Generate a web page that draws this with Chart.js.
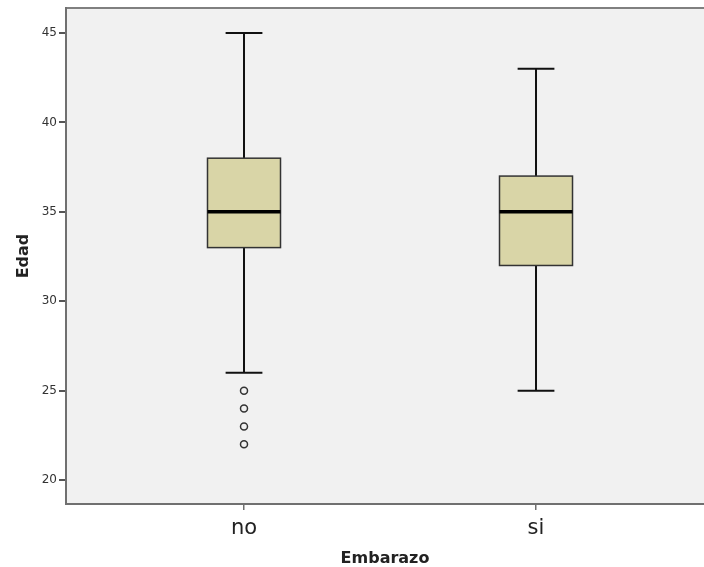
<!DOCTYPE html>
<html>
<head>
<meta charset="utf-8">
<script src="https://cdn.jsdelivr.net/npm/chart.js@4"></script>
<style>
html,body{margin:0;padding:0;background:#fff;overflow:hidden;}
canvas{display:block;}
</style>
</head>
<body>
<canvas id="c" width="704" height="567"></canvas>
<script>
const categories = ['no', 'si'];
const whiskerLow = [26, 25];
const q1 = [33, 32];
const medians = [35, 35];
const q3 = [38, 37];
const whiskerHigh = [45, 43];
const outliersNo = [25, 24, 23, 22];
const outliersSi = [];
const yTicks = [20, 25, 30, 35, 40, 45];

const outlierPoints = [];
outliersNo.forEach(v => outlierPoints.push({x: 1, y: v}));
outliersSi.forEach(v => outlierPoints.push({x: 2, y: v}));

const boxPlugin = {
  id: 'boxes',
  beforeDraw(chart) {
    const {ctx, chartArea: a} = chart;
    ctx.save();
    ctx.fillStyle = '#f1f1f1';
    ctx.fillRect(a.left, a.top, a.right - a.left, a.bottom - a.top);
    ctx.strokeStyle = '#808080';
    ctx.lineWidth = 2;
    ctx.beginPath();
    ctx.moveTo(a.left, a.top);
    ctx.lineTo(a.right, a.top);
    ctx.stroke();
    ctx.restore();
  },
  beforeDatasetsDraw(chart) {
    const {ctx} = chart;
    const xs = chart.scales.x, ys = chart.scales.y;
    const boxHalf = 0.125, capHalf = 0.063;
    ctx.save();
    categories.forEach((c, i) => {
      const xv = i + 1;
      const xc = xs.getPixelForValue(xv);
      const bl = xs.getPixelForValue(xv - boxHalf), br = xs.getPixelForValue(xv + boxHalf);
      const cl = xs.getPixelForValue(xv - capHalf), cr = xs.getPixelForValue(xv + capHalf);
      const yLo = ys.getPixelForValue(whiskerLow[i]);
      const yHi = ys.getPixelForValue(whiskerHigh[i]);
      const yQ1 = ys.getPixelForValue(q1[i]);
      const yQ3 = ys.getPixelForValue(q3[i]);
      const yMed = ys.getPixelForValue(medians[i]);
      ctx.strokeStyle = '#111';
      ctx.lineWidth = 2;
      ctx.beginPath();
      ctx.moveTo(xc, yHi); ctx.lineTo(xc, yQ3);
      ctx.moveTo(xc, yQ1); ctx.lineTo(xc, yLo);
      ctx.moveTo(cl, yHi); ctx.lineTo(cr, yHi);
      ctx.moveTo(cl, yLo); ctx.lineTo(cr, yLo);
      ctx.stroke();
      ctx.fillStyle = '#d9d5a7';
      ctx.fillRect(bl, yQ3, br - bl, yQ1 - yQ3);
      ctx.strokeStyle = '#333';
      ctx.lineWidth = 1.5;
      ctx.strokeRect(bl, yQ3, br - bl, yQ1 - yQ3);
      ctx.strokeStyle = '#000';
      ctx.lineWidth = 3.5;
      ctx.beginPath();
      ctx.moveTo(bl, yMed); ctx.lineTo(br, yMed);
      ctx.stroke();
    });
    ctx.restore();
  }
};

new Chart(document.getElementById('c'), {
  type: 'scatter',
  data: {
    datasets: [{
      label: 'outliers',
      data: outlierPoints,
      pointStyle: 'circle',
      pointRadius: 3.5,
      pointHoverRadius: 3.5,
      pointBorderWidth: 1.5,
      pointBorderColor: '#333',
      pointBackgroundColor: 'rgba(0,0,0,0)'
    }]
  },
  plugins: [boxPlugin],
  options: {
    responsive: false,
    animation: false,
    layout: {autoPadding: false, padding: {top: 8, right: 0, left: 0, bottom: 0}},
    plugins: {legend: {display: false}, tooltip: {enabled: false}},
    scales: {
      x: {
        type: 'linear',
        min: 0.3904,
        max: 2.5753,
        afterFit(s) { s.height = 63; s.paddingLeft = 0; s.paddingRight = 0; },
        afterBuildTicks(s) { s.ticks = categories.map((c, i) => ({value: i + 1})); },
        ticks: {
          autoSkip: false,
          maxRotation: 0,
          padding: 6,
          color: '#222',
          font: {family: 'DejaVu Sans', size: 21},
          callback(v) { return categories[v - 1] ?? ''; }
        },
        grid: {display: true, drawOnChartArea: false, tickLength: 6, color: '#707070', lineWidth: 1.5},
        border: {display: true, color: '#707070', width: 2},
        title: {
          display: true,
          text: 'Embarazo',
          color: '#222',
          font: {family: 'DejaVu Sans', size: 16, weight: 'bold'},
          padding: {top: 0, bottom: -1}
        }
      },
      y: {
        type: 'linear',
        min: 18.66,
        max: 46.40,
        afterFit(s) { s.width = 66; s.paddingTop = 0; s.paddingBottom = 0; },
        afterBuildTicks(s) { s.ticks = yTicks.map(v => ({value: v})); },
        ticks: {
          padding: 2,
          color: '#333',
          font: {family: 'DejaVu Sans', size: 12}
        },
        grid: {display: true, drawOnChartArea: false, tickLength: 7, color: '#555', lineWidth: 2},
        border: {display: true, color: '#707070', width: 2},
        title: {
          display: true,
          text: 'Edad',
          color: '#222',
          font: {family: 'DejaVu Sans', size: 16, weight: 'bold'},
          padding: {top: 14, bottom: 0}
        }
      }
    }
  }
});
</script>
</body>
</html>
